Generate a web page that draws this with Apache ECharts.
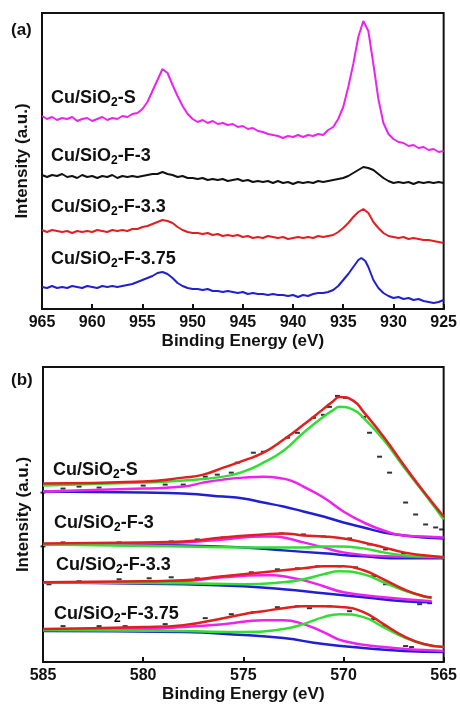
<!DOCTYPE html>
<html>
<head>
<meta charset="utf-8">
<script src="https://cdn.jsdelivr.net/npm/echarts@6/dist/echarts.min.js"></script>
<style>
  html, body { margin: 0; padding: 0; background: #fff; }
  #main { width: 460px; height: 704px; }
</style>
</head>
<body>
<div id="main"></div>
<script>
// (a) Cu 2p spectra, [binding energy, intensity]
var cuS_a = [[965,193],[964.5,190],[964,192],[963.5,189],[963,191],[962.5,190],[962,192],[961.5,188],[961,190],[960.5,191],[960,188],[959.5,190],[959,192],[958.5,189],[958,191],[957.5,190],[957,193],[956.5,192],[956,195],[955.5,196],[955,200],[954.5,207],[954,218],[953.5,229],[953,240],[952.5,236],[952,224],[951.5,213],[951,203],[950.5,195],[950,190],[949.5,187],[949,189],[948.5,186],[948,188],[947.5,185],[947,186],[946.5,184],[946,185],[945.5,182],[945,183],[944.5,180],[944,181],[943.5,178],[943,177],[942.5,175],[942,174],[941.5,173],[941,171],[940.5,173],[940,172],[939.5,174],[939,172],[938.5,174],[938,173],[937.5,175],[937,174],[936.5,179],[936,182],[935.5,190],[935,202],[934.5,222],[934,245],[933.5,272],[933,288],[932.5,278],[932,245],[931.5,210],[931,186],[930.5,175],[930,170],[929.5,167],[929,166],[928.5,163],[928,164],[927.5,161],[927,162],[926.5,159],[926,160],[925.5,157],[925,158]];
var cuF3_a = [[965,134],[964.5,132],[964,134],[963.5,133],[963,135],[962.5,132],[962,133],[961.5,131],[961,134],[960.5,132],[960,133],[959.5,131],[959,133],[958.5,132],[958,134],[957.5,131],[957,133],[956.5,132],[956,133],[955.5,132],[955,133],[954.5,134],[954,135],[953.5,135],[953,137],[952.5,135],[952,134],[951.5,132],[951,133],[950.5,131],[950,131],[949.5,130],[949,131],[948.5,129],[948,130],[947.5,129],[947,130],[946.5,128],[946,129],[945.5,130],[945,128],[944.5,129],[944,127],[943.5,128],[943,127],[942.5,128],[942,126],[941.5,128],[941,126],[940.5,127],[940,125],[939.5,127],[939,126],[938.5,127],[938,126],[937.5,128],[937,127],[936.5,128],[936,129],[935.5,130],[935,131],[934.5,133],[934,136],[933.5,139],[933,142],[932.5,141],[932,139],[931.5,135],[931,131],[930.5,128],[930,126],[929.5,127],[929,126],[928.5,127],[928,125],[927.5,127],[927,126],[926.5,127],[926,126],[925.5,127],[925,126]];
var cuF33_a = [[965,79],[964.5,77],[964,79],[963.5,78],[963,77],[962.5,78],[962,76],[961.5,78],[961,77],[960.5,78],[960,77],[959.5,79],[959,78],[958.5,77],[958,79],[957.5,78],[957,79],[956.5,78],[956,80],[955.5,80],[955,82],[954.5,83],[954,85],[953.5,87],[953,89],[952.5,88],[952,86],[951.5,82],[951,79],[950.5,77],[950,76],[949.5,76],[949,75],[948.5,76],[948,74],[947.5,75],[947,73],[946.5,74],[946,73],[945.5,74],[945,72],[944.5,73],[944,71],[943.5,72],[943,71],[942.5,73],[942,72],[941.5,71],[941,72],[940.5,70],[940,71],[939.5,72],[939,71],[938.5,72],[938,71],[937.5,73],[937,72],[936.5,73],[936,74],[935.5,77],[935,81],[934.5,86],[934,92],[933.5,97],[933,100],[932.5,96],[932,87],[931.5,81],[931,76],[930.5,73],[930,72],[929.5,71],[929,72],[928.5,70],[928,71],[927.5,70],[927,69],[926.5,69],[926,68],[925.5,67],[925,66]];
var cuF375_a = [[965,22],[964.5,21],[964,23],[963.5,21],[963,22],[962.5,21],[962,23],[961.5,22],[961,21],[960.5,23],[960,22],[959.5,21],[959,23],[958.5,22],[958,23],[957.5,22],[957,23],[956.5,24],[956,25],[955.5,27],[955,29],[954.5,31],[954,33],[953.5,36],[953,37],[952.5,35],[952,31],[951.5,26],[951,23],[950.5,21],[950,20],[949.5,20],[949,19],[948.5,20],[948,18],[947.5,18],[947,17],[946.5,18],[946,17],[945.5,16],[945,17],[944.5,15],[944,16],[943.5,15],[943,15],[942.5,14],[942,15],[941.5,14],[941,14],[940.5,13],[940,14],[939.5,12],[939,14],[938.5,13],[938,15],[937.5,16],[937,16],[936.5,17],[936,19],[935.5,23],[935,29],[934.5,35],[934,42],[933.5,49],[933.2,51],[932.8,48],[932.5,42],[932,29],[931.5,21],[931,16],[930.5,13],[930,11],[929.5,12],[929,10],[928.5,11],[928,9],[927.5,10],[927,8],[926.5,7],[926,6],[925.5,7],[925,9]];

// (b) Cu LMM fits, [binding energy, intensity]
var sBlue = [[585,171],[580,170],[578,169],[576,166],[575,164],[574,160],[573,156],[572,151],[571,146],[570,140],[569,135],[568,130],[567,127],[566,125],[565,124]];
var sMag = [[585,171],[580,174],[578,176],[577,180],[576,183],[575,185],[574,186],[573,184],[572.5,181],[572,176],[571,165],[570,151],[569,140],[568,132],[567,127],[566,126],[565,125]];
var sGreen = [[585,177],[580,180],[578,182],[576,186],[575,191],[574,200],[573,212],[572,230],[571,246],[570.5,253],[570.2,256],[569.5,253],[569,245],[568,223],[567,196],[566,170],[565,143]];
var sRed = [[585,179],[580,181],[578,185],[577,188],[576,195],[575,202],[574,210],[573,223],[572,238],[571,254],[570.5,262],[570.2,266],[569.5,262],[569,251],[568,226],[567,198],[566,171],[565,146]];
var f3Blue = [[585,118],[578,117],[575,115],[573,112],[571,109],[569,106],[567,104],[565,104]];
var f3Mag = [[585,118],[580,119],[578,120],[576,123],[574,126],[573.5,126],[573,125],[572,120],[571,115],[570,110],[568,106],[565,105]];
var f3Green = [[585,118],[578,116],[575,115],[573,115],[572,115],[571,116],[570.2,116],[569,114],[568,110],[567,107],[566,106],[565,105]];
var f3Red = [[585,119],[580,120],[578,121],[576,125],[574,128],[573,129],[572,127],[571,126],[570,124],[569,120],[568,115],[567,110],[566,107],[565,105]];
var f33Blue = [[585,80],[578,78],[575,76],[573,73],[571,69],[569,65],[567,61],[565.6,60]];
var f33Mag = [[585,80],[580,80],[578,81],[576,85],[574,87],[573.5,87],[573,86],[572,82],[571,76],[570,70],[568,65],[565.6,61]];
var f33Green = [[585,80],[578,79],[575,78],[573,80],[572,83],[571,88],[570.2,91],[569,88],[568,80],[567,72],[566,66],[565.6,64]];
var f33Red = [[585,80],[580,81],[578,82],[576,86],[574,90],[573,92],[572,94],[571,96],[570,96],[569,92],[568,83],[567,73],[566,66],[565.6,65]];
var f375Blue = [[585,31],[578,30],[575,27],[573,24],[571,18],[569,14],[567,11],[565,10]];
var f375Mag = [[585,32],[580,33],[578,35],[576,38],[574,42],[573.5,42],[573,42],[572,38],[571,30],[570,21],[568,15],[566,12],[565,11]];
var f375Green = [[585,32],[578,31],[575,30],[573,33],[572,38],[571,45],[570.2,48],[569,45],[568,35],[567,25],[566,18],[565,15]];
var f375Red = [[585,33],[580,35],[578,37],[576,44],[575,48],[574,51],[573,54],[572,56],[571,56],[570,55],[569,50],[568,38],[567,26],[566,18],[565,15]];
var dotsB = [[585,170],[584,174],[583.2,176],[582.2,175],[580,177],[578.9,178],[578,178],[576.9,186],[576.3,188],[575.6,190],[575.3,200],[574.5,210],[574,211],[572.8,225],[572.3,230],[571.5,245],[571,248],[570.7,256],[570.3,267],[569.9,265],[569,246],[568.7,230],[568.2,206],[567.7,190],[566.9,160],[566.4,148],[565.9,138],[565.4,135],[565.1,133],
  [585,116],[584,120],[582.5,118],[581.2,120],[578.6,121],[577.3,123],[576,125],[574.6,126],[573.1,129],[572,128],[571,126],[569.7,124],[568.7,118],[567.9,113],[567,109],[565.7,106],
  [584.7,78],[583.2,81],[581.2,83],[579.7,84],[578.6,85],[577.3,84],[576,86],[574.6,90],[573.3,93],[572.3,94],[571.3,96],[570.2,96],[569.4,95],[568.5,86],[567.9,78],[566.2,58],[565.7,59],
  [584.8,33],[584,36],[582.2,36],[580.9,36],[578.9,38],[576.9,44],[575.6,48],[574.5,50],[573.3,55],[572.3,56],[571.7,54],[570.7,56],[569.7,51],[568.5,43],[568,36],[566.9,16],[566.6,15]];

var labelNames = ['-S', '-F-3', '-F-3.3', '-F-3.75'];

var FONT = '"Liberation Sans", Arial, sans-serif';
var MAG = '#ee22ee', RED = '#e02020', BLUE = '#2020d0', GREEN = '#33dd33', BLK = '#111';

var chart = echarts.init(document.getElementById('main'), null, { renderer: 'canvas' });

function xAx(idx, min, max, inverse) {
  return {
    type: 'value', gridIndex: idx, min: min, max: max, interval: 5, inverse: inverse,
    name: 'Binding Energy (eV)', nameLocation: 'middle', nameGap: 24,
    nameTextStyle: { fontFamily: FONT, fontWeight: 'bold', fontSize: 17, color: '#111' },
    axisLine: { lineStyle: { color: '#111', width: 2 } },
    axisTick: { inside: true, length: 5, lineStyle: { color: '#111', width: 2 } },
    axisLabel: { margin: 6, fontFamily: FONT, fontWeight: 'bold', fontSize: 16, color: '#111' },
    splitLine: { show: false }
  };
}
function yAx(idx) {
  return {
    type: 'value', gridIndex: idx, min: 0, max: 296,
    name: 'Intensity (a.u.)', nameLocation: 'middle', nameGap: 11,
    nameTextStyle: { fontFamily: FONT, fontWeight: 'bold', fontSize: 17, color: '#111' },
    axisLine: { show: true, lineStyle: { color: '#111', width: 2 } },
    axisTick: { show: false }, axisLabel: { show: false }, splitLine: { show: false }
  };
}
function line(data, color, xi, w) {
  return { type: 'line', data: data, xAxisIndex: xi, yAxisIndex: xi, showSymbol: false, smooth: xi === 1,
    lineStyle: { color: color, width: w }, itemStyle: { color: color }, animation: false, silent: true };
}
function label(x, y, suffix) {
  return { type: 'text', left: x, top: y, style: {
    text: '{a|Cu/SiO}{s|2}{a|' + suffix + '}',
    rich: {
      a: { fontFamily: FONT, fontWeight: 'bold', fontSize: 18, fill: '#111' },
      s: { fontFamily: FONT, fontWeight: 'bold', fontSize: 12, padding: [9, 0, 0, 0] }
    } } };
}

var series = [
  line(cuS_a, MAG, 0, 2), line(cuF3_a, BLK, 0, 2), line(cuF33_a, RED, 0, 2), line(cuF375_a, BLUE, 0, 2)
];
[[sBlue, sMag, sGreen, sRed], [f3Blue, f3Mag, f3Green, f3Red], [f33Blue, f33Mag, f33Green, f33Red], [f375Blue, f375Mag, f375Green, f375Red]].forEach(function (g) {
  series.push(line(g[0], BLUE, 1, 2.5), line(g[1], MAG, 1, 2.5), line(g[2], GREEN, 1, 2.5), line(g[3], RED, 1, 2.5));
});
series.push({ type: 'scatter', xAxisIndex: 1, yAxisIndex: 1, data: dotsB, symbol: 'rect', symbolSize: [5, 2],
  itemStyle: { color: '#000' }, animation: false, silent: true });

chart.setOption({
  animation: false,
  grid: [
    { left: 42, right: 14, top: 13, height: 296, show: true, borderColor: '#111', borderWidth: 2 },
    { left: 43, right: 11, top: 367, height: 296, show: true, borderColor: '#111', borderWidth: 2 }
  ],
  xAxis: [xAx(0, 925, 965, true), xAx(1, 565, 585, true)],
  yAxis: [yAx(0), yAx(1)],
  series: series,
  graphic: [
    { type: 'text', left: 11, top: 22, style: { text: '(a)', fontFamily: FONT, fontWeight: 'bold', fontSize: 17, fill: '#111' } },
    { type: 'text', left: 11, top: 372, style: { text: '(b)', fontFamily: FONT, fontWeight: 'bold', fontSize: 17, fill: '#111' } },
    label(51, 89, labelNames[0]), label(51, 147, labelNames[1]), label(51, 198, labelNames[2]), label(51, 250, labelNames[3]),
    label(53, 461, labelNames[0]), label(54, 514, labelNames[1]), label(56, 556, labelNames[2]), label(54, 605, labelNames[3])
  ]
});
</script>
</body>
</html>
